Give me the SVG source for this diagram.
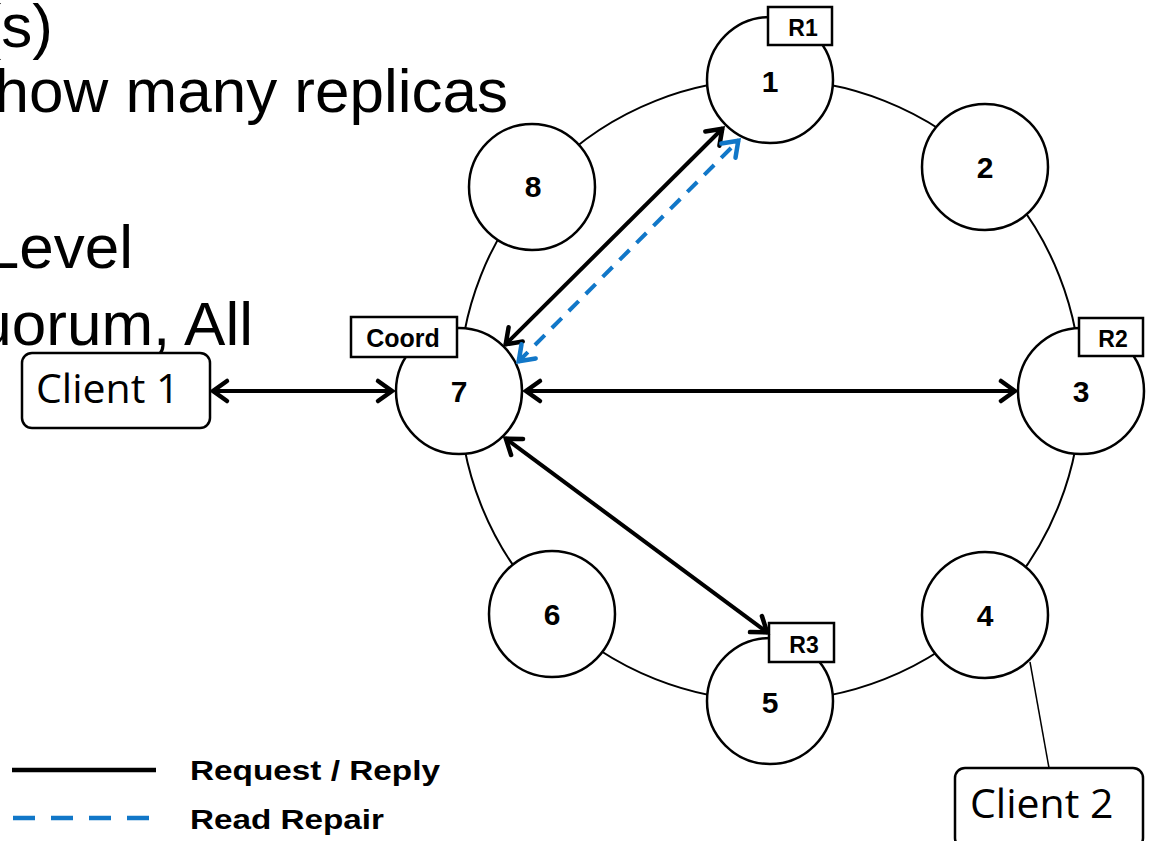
<svg xmlns="http://www.w3.org/2000/svg" width="1151" height="841" viewBox="0 0 1151 841">
<style>
.bg{font-family:"Liberation Sans",Arial,sans-serif;font-size:62px;fill:#000}
.node circle{fill:#fff;stroke:#000;stroke-width:2.5}
.num{font-family:"Liberation Sans",Arial,sans-serif;font-weight:bold;font-size:30px;text-anchor:middle;fill:#000}
.tag rect{fill:#fff;stroke:#000;stroke-width:2.5}
.tag text{font-family:"Liberation Sans",Arial,sans-serif;font-weight:bold;font-size:23px;text-anchor:middle;fill:#000}
.client rect{fill:#fff;stroke:#000;stroke-width:2.5}
.client text{font-family:"Open Sans","DejaVu Sans",sans-serif;font-size:41px;fill:#000}
.req{stroke:#000;stroke-width:4;fill:none;marker-start:url(#ah);marker-end:url(#ah)}
.rr{stroke:#1177C8;stroke-width:4;fill:none;stroke-dasharray:14 10;marker-start:url(#ahb);marker-end:url(#ahb)}
.leg{font-family:"Liberation Sans",Arial,sans-serif;font-weight:bold;font-size:27px;fill:#000}
</style>
<defs>
<marker id="ah" markerUnits="userSpaceOnUse" markerWidth="30" markerHeight="30" viewBox="-20 -15 30 30" refX="0" refY="0" orient="auto-start-reverse">
<path d="M-15,-10 L-1,0 L-15,10" fill="none" stroke="#000" stroke-width="4.5" stroke-linecap="round" stroke-linejoin="miter"/>
</marker>
<marker id="ahb" markerUnits="userSpaceOnUse" markerWidth="30" markerHeight="30" viewBox="-20 -15 30 30" refX="0" refY="0" orient="auto-start-reverse">
<path d="M-15,-10 L-1,0 L-15,10" fill="none" stroke="#1177C8" stroke-width="4.5" stroke-linecap="round" stroke-linejoin="miter"/>
</marker>
</defs>
<rect width="1151" height="841" fill="#fff"/>
<g id="bg-text">
<text class="bg" x="53" y="47" text-anchor="end">(s)</text>
<text class="bg" x="508" y="112" text-anchor="end">how many replicas</text>
<text class="bg" x="133" y="268" text-anchor="end">Level</text>
<text class="bg" x="253" y="345" text-anchor="end">uorum, All</text>
</g>
<circle id="ring" cx="770" cy="390" r="311" fill="none" stroke="#000" stroke-width="2"/>
<line id="client2-link" x1="1030" y1="662" x2="1049" y2="768" stroke="#000" stroke-width="1.5"/>
<g id="node1" class="node"><circle cx="770" cy="80" r="63"/><text class="num" x="770" y="92">1</text></g>
<g id="node2" class="node"><circle cx="985" cy="167" r="63"/><text class="num" x="985" y="178">2</text></g>
<g id="node3" class="node"><circle cx="1081" cy="391" r="63"/><text class="num" x="1081" y="402">3</text></g>
<g id="node4" class="node"><circle cx="985" cy="615" r="63"/><text class="num" x="985" y="626">4</text></g>
<g id="node5" class="node"><circle cx="770" cy="701" r="63"/><text class="num" x="770" y="713">5</text></g>
<g id="node6" class="node"><circle cx="552" cy="614" r="63"/><text class="num" x="552" y="625">6</text></g>
<g id="node7" class="node"><circle cx="459" cy="391" r="63"/><text class="num" x="459" y="402">7</text></g>
<g id="node8" class="node"><circle cx="532" cy="187" r="63"/><text class="num" x="533" y="197">8</text></g>
<g id="tag-r1" class="tag"><rect x="768" y="7" width="64" height="38"/><text x="803" y="36">R1</text></g>
<g id="tag-coord" class="tag"><rect x="351" y="317" width="106" height="40"/><text x="403" y="347" style="font-size:25px">Coord</text></g>
<g id="tag-r2" class="tag"><rect x="1079" y="318" width="64" height="38"/><text x="1113" y="347">R2</text></g>
<g id="tag-r3" class="tag"><rect x="769" y="623" width="65" height="39"/><text x="804" y="653">R3</text></g>
<g id="client1" class="client"><rect x="22" y="353" width="188" height="75" rx="10"/><text x="36" y="403">Client 1</text></g>
<g id="client2" class="client"><rect x="955" y="768" width="188" height="80" rx="10"/><text x="970" y="818">Client 2</text></g>
<g id="connectors">
<line class="req" x1="212" y1="391" x2="393" y2="391"/>
<line class="req" x1="525" y1="391" x2="1016" y2="391"/>
<line class="req" x1="505" y1="345" x2="723" y2="128"/>
<line class="rr" x1="518" y1="362" x2="739" y2="140"/>
<line class="req" x1="505" y1="438" x2="768" y2="633"/>
</g>
<g id="legend">
<line x1="12" y1="770" x2="156" y2="770" stroke="#000" stroke-width="4.5"/>
<line x1="13" y1="818" x2="150" y2="818" stroke="#1177C8" stroke-width="4.5" stroke-dasharray="22 16"/>
<text class="leg" x="190" y="780" textLength="250" lengthAdjust="spacingAndGlyphs">Request / Reply</text>
<text class="leg" x="190" y="829" textLength="194" lengthAdjust="spacingAndGlyphs">Read Repair</text>
</g>
</svg>
